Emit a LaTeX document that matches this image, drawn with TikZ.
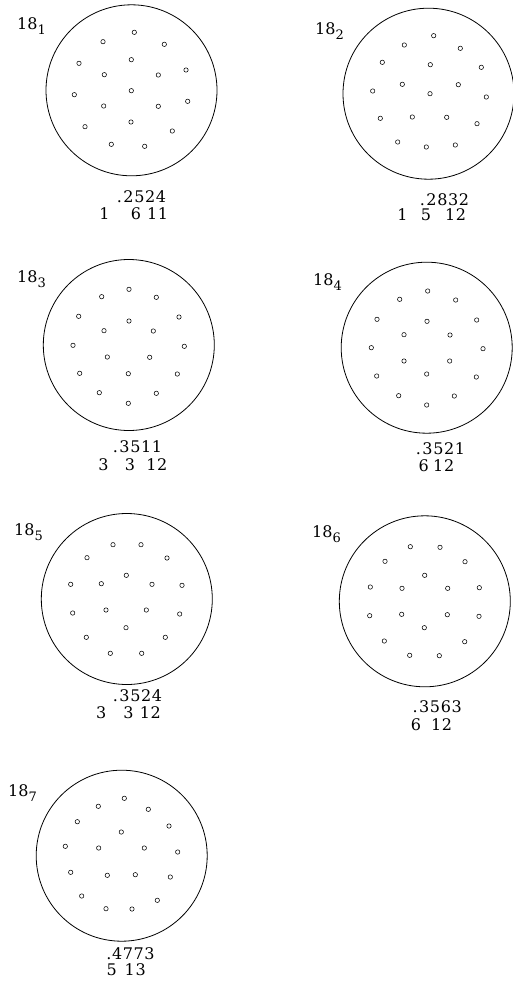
\documentclass[tikz,border=0pt]{standalone}
\usepackage{fontspec}
\usepackage{tikz}
\usetikzlibrary{positioning}
\newfontfamily\numfont[LetterSpace=4]{DejaVu Serif}
\newfontfamily\tagfont{DejaVu Serif}
\newcommand{\sub}[1]{\raisebox{-5pt}{\fontsize{13}{13}\selectfont #1}}

\begin{document}
\begin{tikzpicture}[
  x=1pt, y=-1pt,
  disc/.style={draw, circle, minimum size=171pt, inner sep=0pt, line width=0.8pt},
  hole/.style={line width=0.55pt},
  tag/.style={anchor=base west, inner sep=0pt, font=\tagfont\fontsize{16}{18}\selectfont},
  val/.style={anchor=base, inner sep=0pt, font=\numfont\fontsize{16}{18}\selectfont},
  cnt/.style={anchor=base, inner sep=0pt, font=\numfont\fontsize{16}{18}\selectfont}
]
\useasboundingbox (0,0) rectangle (513,998);

% 18_1
\node[disc] (d1) at (131.5,90.3) {};
\foreach \x/\y in {134.3/32.3, 103/41.7, 164.3/44.3, 79/63.3, 131.3/59.7, 104.3/74.7,
  158.3/75, 186/70, 74.3/94.7, 131.3/90.7, 103.7/106, 158.3/106.3, 187.7/101.3,
  85/126.7, 131/122, 172.3/131, 111.3/144.3, 144.7/146.3}
  \draw[hole] (\x,\y) circle[radius=2.2pt];
\node[tag] (t1) at (17,29.3) {18\sub{1}};
\node[val] (v1) at (141.5,202.7) {.\kern1.5pt2524};
\node[cnt] (a1) at (104.5,219.5) {1};
\node[cnt] (b1) at (136,219.5) {6};
\node[cnt] (c1) at (157.5,219.5) {11};

% 18_2
\node[disc] (d2) at (428.5,93.7) {};
\foreach \x/\y in {433.7/35.7, 404.3/45, 460.3/48.3, 382.3/62.3, 430.3/64.7, 481.3/67.3,
  402.3/84.3, 458.3/84.7, 372.7/91, 430/93.7, 486.3/97, 380.3/118.3, 412.3/117,
  446.7/117.3, 477/123.7, 397.7/142, 426.3/147, 455.3/145}
  \draw[hole] (\x,\y) circle[radius=2.2pt];
\node[tag] (t2) at (315,35) {18\sub{2}};
\node[val] (v2) at (444.5,205) {.\kern1.5pt2832};
\node[cnt] (a2) at (402.5,220.5) {1};
\node[cnt] (b2) at (426,220.5) {5};
\node[cnt] (c2) at (455.5,220.5) {12};

% 18_3
\node[disc] (d3) at (128.8,345) {};
\foreach \x/\y in {129/289.3, 101.7/296.7, 156.3/297.3, 78.7/316.3, 129/321, 179/317,
  104/330.7, 153.3/331, 73/345.3, 184.3/346.3, 107.3/357, 149.7/357.3, 79.7/373.3,
  128.3/373.7, 177.3/374, 99.3/392.7, 156.3/393.3, 128.3/403.3}
  \draw[hole] (\x,\y) circle[radius=2.2pt];
\node[tag] (t3) at (17,282) {18\sub{3}};
\node[val] (v3) at (137.5,452.7) {.\kern1.5pt3511};
\node[cnt] (a3) at (103.5,470) {3};
\node[cnt] (b3) at (130,470) {3};
\node[cnt] (c3) at (156.8,470) {12};

% 18_4
\node[disc] (d4) at (426.7,347.7) {};
\foreach \x/\y in {427.7/291, 399.7/299.3, 455.7/300, 377/319.3, 427/321.3, 476.7/320,
  404/334.7, 450/335, 371.3/347.7, 483/348.7, 404/361, 449.7/361, 376.7/376,
  426.7/374, 476.3/377, 398.7/395.7, 454.3/396, 426.7/405}
  \draw[hole] (\x,\y) circle[radius=2.2pt];
\node[tag] (t4) at (313,285) {18\sub{4}};
\node[val] (v4) at (440.5,454) {.\kern1.5pt3521};
\node[cnt] (a4) at (423.8,471.7) {6};
\node[cnt] (c4) at (443.7,471.7) {12};

% 18_5
\node[disc] (d5) at (126.8,599) {};
\foreach \x/\y in {113/544.7, 141/544.7, 87/557.7, 167/558, 126.3/575.3, 70.7/584.3,
  101.3/583.7, 152/584.3, 182/585.3, 72.7/613, 106/610, 146.3/610, 179.7/614,
  126/627.7, 86.3/637.3, 165.3/637.3, 110.3/653.3, 141.7/653.3}
  \draw[hole] (\x,\y) circle[radius=2.2pt];
\node[tag] (t5) at (14,535) {18\sub{5}};
\node[val] (v5) at (137.5,701) {.\kern1.5pt3524};
\node[cnt] (a5) at (101.3,718.3) {3};
\node[cnt] (b5) at (128.5,718.3) {3};
\node[cnt] (c5) at (150.3,718.3) {12};

% 18_6
\node[disc] (d6) at (424.8,601.3) {};
\foreach \x/\y in {410.3/546.7, 440/547.3, 385/561.3, 465/561.7, 424.7/575.3, 370.3/587,
  402/588.3, 447.7/588.3, 479.3/587.7, 369.7/615.7, 401.7/614.3, 447.3/614.7,
  479/616.3, 424.3/627.7, 384.3/641, 464.7/641.7, 409.7/655.3, 439.3/655.7}
  \draw[hole] (\x,\y) circle[radius=2.2pt];
\node[tag] (t6) at (312,537) {18\sub{6}};
\node[val] (v6) at (437.2,712.3) {.\kern1.5pt3563};
\node[cnt] (a6) at (416,730) {6};
\node[cnt] (c6) at (441.5,730) {12};

% 18_7
\node[disc] (d7) at (121.7,855.7) {};
\foreach \x/\y in {124.3/798.3, 98.3/806.3, 148.3/809.3, 77.3/821.7, 169/826, 121.3/832,
  65.3/846.3, 98.7/848, 144.3/848, 177.7/852, 70.7/872.3, 107.3/875.3, 135.3/874.7,
  170.3/877, 81.7/896, 157.3/900.3, 106/908.7, 132/909}
  \draw[hole] (\x,\y) circle[radius=2.2pt];
\node[tag] (t7) at (8,796) {18\sub{7}};
\node[val] (v7) at (130.5,959.3) {.4773};
\node[cnt] (a7) at (111.8,975) {5};
\node[cnt] (c7) at (135.2,975) {13};
\end{tikzpicture}
\end{document}
